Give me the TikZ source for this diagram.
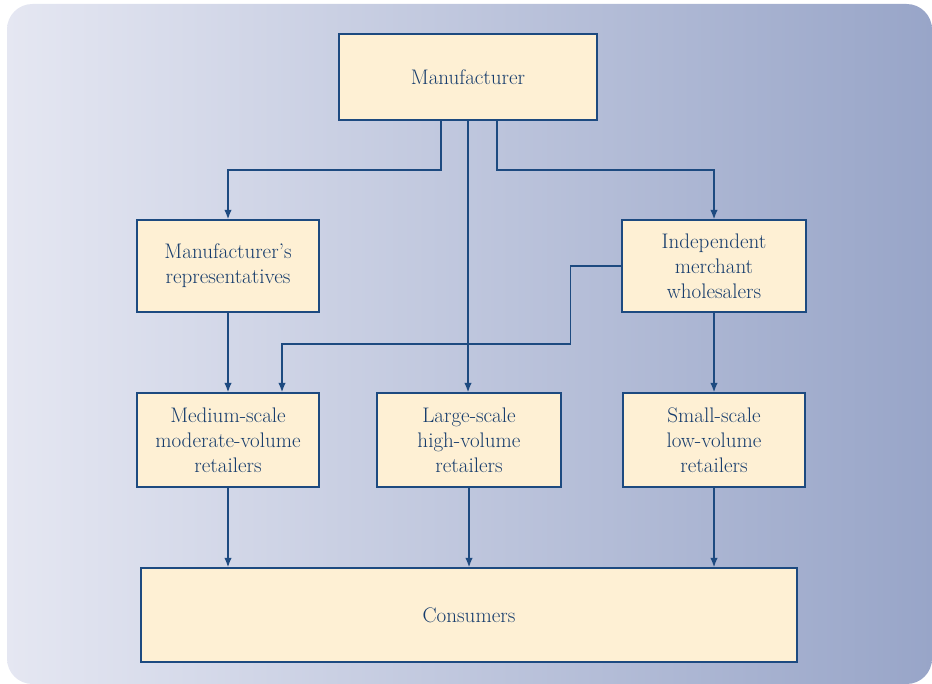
\documentclass[tikz,border=0pt]{standalone}
\usepackage{fontspec}
\usetikzlibrary{arrows.meta,calc}
\definecolor{bgleft}{HTML}{E5E7F2}
\definecolor{bgright}{HTML}{98A5C8}
\definecolor{boxfill}{HTML}{FEF0D4}
\definecolor{navy}{HTML}{1D4A80}
\definecolor{inktext}{HTML}{163C6C}
\tikzset{
  x=0.75pt, y=-0.75pt,
  stage/.style={draw=navy, line width=1.05pt, fill=boxfill, align=center,
    text=inktext, font=\fontsize{15.8}{18.8}\selectfont, inner sep=0pt},
  flow/.style={draw=navy, line width=1.05pt,
    -{Latex[length=7pt,width=5.5pt]}},
}
\begin{document}
\begin{tikzpicture}
\useasboundingbox (0,0) rectangle (932,684);
% backdrop panel
\shade[left color=bgleft, right color=bgright, rounded corners=19pt]
  (7,4) rectangle (932,684);

% stages of the channel
\node[stage, minimum width=193.5pt, minimum height=64.5pt] (mfr) at (468,77) {Manufacturer};
\node[stage, minimum width=136.5pt, minimum height=69pt] (reps) at (228,266) {Manufacturer's\\representatives};
\node[stage, minimum width=138pt, minimum height=69pt] (whole) at (714,266) {Independent\\merchant\\wholesalers};
\node[stage, minimum width=136.5pt, minimum height=70.5pt] (medium) at (228,440) {Medium-scale\\moderate-volume\\retailers};
\node[stage, minimum width=138pt, minimum height=70.5pt] (large) at (469,440) {Large-scale\\high-volume\\retailers};
\node[stage, minimum width=136.5pt, minimum height=70.5pt] (small) at (714,440) {Small-scale\\low-volume\\retailers};
\node[stage, minimum width=492pt, minimum height=70.5pt] (cons) at (469,615) {Consumers};

% connectors
\draw[flow] ($(mfr.south)+(-27,0)$) -- ++(0,49.5) -| (reps.north);
\draw[flow] (mfr.south) -- (mfr.south |- large.north);
\draw[flow] ($(mfr.south)+(29,0)$) -- ++(0,49.5) -| (whole.north);
\draw[flow] (whole.west) -- ++(-51,0) -- ++(0,78) -| ($(medium.north)+(54,0)$);
\draw[flow] (reps.south) -- (medium.north);
\draw[flow] (whole.south) -- (whole.south |- small.north);
\draw[flow] (medium.south) -- (medium.south |- cons.north);
\draw[flow] (large.south) -- (large.south |- cons.north);
\draw[flow] (small.south) -- (small.south |- cons.north);
\end{tikzpicture}
\end{document}
